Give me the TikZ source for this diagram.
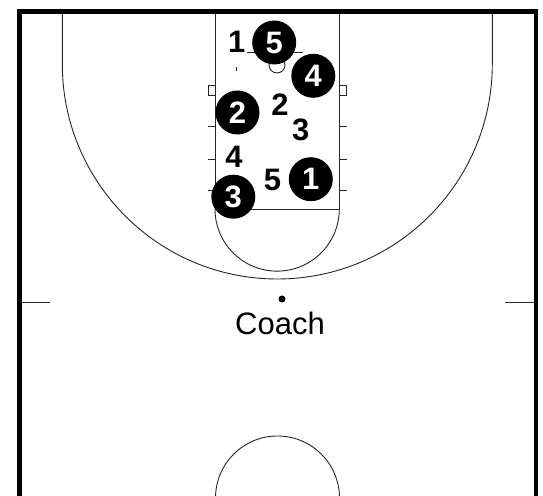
\documentclass[tikz,border=0pt]{standalone}
\usepackage{fontspec}
\newfontfamily\arialf{Liberation Sans}
\begin{document}
\begin{tikzpicture}[x=1pt,y=1pt,
  courtline/.style={draw=black!85,line width=0.9pt},
  borderline/.style={draw=black,line width=4.5pt},
  player/.style={circle,fill=black,text=white,minimum size=44pt,inner sep=0pt,font=\arialf\bfseries\fontsize{31}{31}\selectfont},
  spot/.style={inner sep=0pt,text=black,font=\arialf\bfseries\fontsize{31}{31}\selectfont},
  label/.style={inner sep=0pt,text=black,font=\arialf\fontsize{31}{31}\selectfont}]
\useasboundingbox (0,0) rectangle (543,495);
\clip (0,0) rectangle (543,495);
\fill[white] (0,0) rectangle (543,495);
% center circle
\draw[courtline] (277.5,-3) circle[radius=62];
% three-point line
\draw[courtline] (62.3,483.3) -- (62.3,431) arc[start angle=180,end angle=360,radius=215] -- (492.3,483.3);
% lane
\draw[courtline] (215,483.3) -- (215,286) -- (339.3,286) -- (339.3,483.3);
% free throw half circle
\draw[courtline] (215,286) arc[start angle=180,end angle=360,radius=62.15];
% hash boxes
\draw[courtline] (208.3,400) rectangle (215,410);
\draw[courtline] (339.3,400) rectangle (346.7,410);
% lane ticks
\foreach \yy in {368.3,335.7,304.3}{
  \draw[courtline] (208.3,\yy) -- (215,\yy);
  \draw[courtline] (339.3,\yy) -- (346.7,\yy);
}
% backboard and ring
\coordinate (bbL) at (247,442.3);
\coordinate (bbR) at (303,442.3);
\draw[courtline] (bbL) -- (bbR);
\node[circle,draw=black!85,line width=0.9pt,minimum size=16pt,inner sep=0pt] (ring) at (277,430) {};
\coordinate (bbC) at (277,442.3);
\draw[courtline] (bbC) -- (ring.north);
% small mark
\coordinate (mA) at (236.7,428);
\coordinate (mB) at (236.7,423.5);
\draw[courtline] (mA) -- (mB);
% half-court ticks
\coordinate (hL1) at (19.5,193);
\coordinate (hL2) at (50,193);
\coordinate (hR1) at (505,193);
\coordinate (hR2) at (536,193);
\draw[courtline] (hL1) -- (hL2);
\draw[courtline] (hR1) -- (hR2);
% border
\draw[borderline] (19.5,-10) -- (19.5,483.3) -- (536,483.3) -- (536,-10);
% coach
\node[circle,fill=black,minimum size=7pt,inner sep=0pt] (coachdot) at (282,196) {};
\node[label] (coach) at (280,172) {Coach};
% offensive spots
\node[spot] (d1) at (236.7,453.3) {1};
\node[spot] (d2) at (280,390.5) {2};
\node[spot] (d3) at (300.8,365) {3};
\node[spot] (d4) at (234,338.3) {4};
\node[spot] (d5) at (272.5,315) {5};
% players
\node[player] (p5) at (274.2,452.5) {5};
\node[player] (p4) at (313.3,419.2) {4};
\node[player] (p2) at (237.5,382.5) {2};
\node[player] (p3) at (233.3,298.3) {3};
\node[player] (p1) at (310.8,315.8) {1};
\end{tikzpicture}
\end{document}
